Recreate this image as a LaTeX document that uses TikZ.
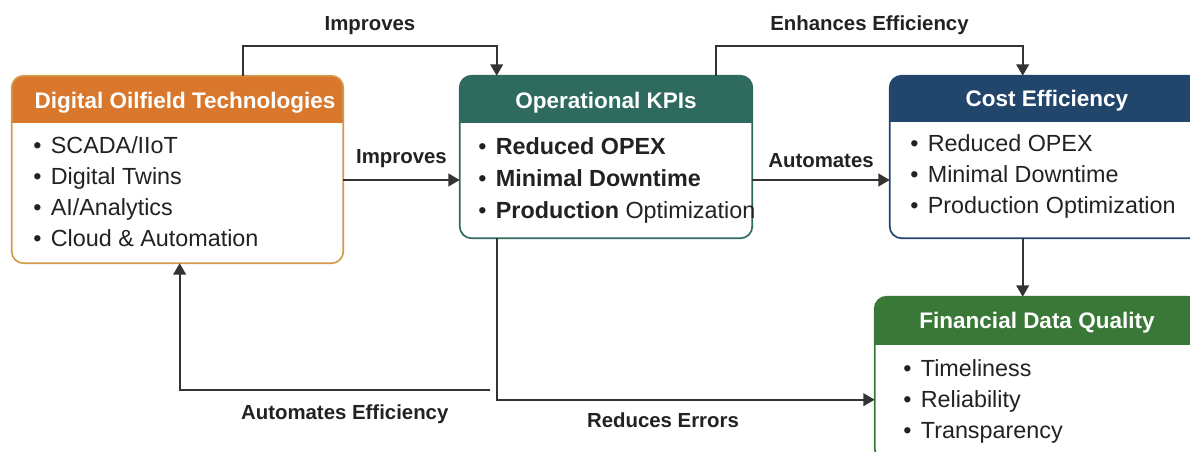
\documentclass[tikz,border=0pt]{standalone}
\usepackage{fontspec}
\setmainfont{Liberation Sans}
\usetikzlibrary{arrows.meta,calc}

\definecolor{dotorange}{HTML}{D9782D}
\definecolor{dotborder}{HTML}{D39A4C}
\definecolor{kpiteal}{HTML}{2E6A5E}
\definecolor{costnavy}{HTML}{22466B}
\definecolor{fdqgreen}{HTML}{3A7837}
\definecolor{linegray}{HTML}{333333}
\definecolor{textdark}{HTML}{222222}

\newcommand\itembullet{\makebox[12.5pt][l]{\textbullet}}

\tikzset{
  box/.style={fill=white, inner sep=0pt, rounded corners=8.5pt},
  title/.style={font=\fontsize{16}{19}\selectfont\bfseries, text=white, anchor=base, inner sep=0pt},
  item/.style={font=\fontsize{16.6}{19}\selectfont, text=textdark, anchor=base west, inner sep=0pt},
  lbl/.style={font=\fontsize{14.5}{17}\selectfont\bfseries, text=textdark, inner sep=0pt},
  conn/.style={draw=linegray, line width=1.2pt, -{Triangle[width=9pt,length=8pt]}}
}

\begin{document}
\begin{tikzpicture}[x=0.025cm, y=0.025cm]
\useasboundingbox (0,0) rectangle (1190,452);
\clip (0,0) rectangle (1190,452);

% boxes
\node[box, minimum width=8.275cm, minimum height=4.675cm] (dot) at (177.5,282.5) {};
\node[box, minimum width=7.3cm, minimum height=4.05cm] (kpi) at (606,295) {};
\node[box, minimum width=7.75cm, minimum height=4.05cm] (cost) at (1045,295) {};
\node[box, minimum width=8.125cm, minimum height=4.075cm] (fdq) at (1037.5,73.5) {};

% headers and borders
\foreach \n/\c/\b/\h in {dot/dotorange/dotborder/47, kpi/kpiteal/kpiteal/47, cost/costnavy/costnavy/46, fdq/fdqgreen/fdqgreen/48} {
  \begin{scope}
    \clip[rounded corners=8.5pt] (\n.south west) rectangle (\n.north east);
    \fill[\c] (\n.north west) rectangle ($(\n.north east)+(0,-\h)$);
  \end{scope}
  \draw[\b, line width=1.2pt, rounded corners=8.5pt] (\n.south west) rectangle (\n.north east);
}

% titles
\node[title] (dot-title) at (185,343) {Digital Oilfield Technologies};
\node[title] (kpi-title) at (606,343) {Operational KPIs};
\node[title] (cost-title) at (1047,345) {Cost Efficiency};
\node[title] (fdq-title) at (1037,123) {Financial Data Quality};

% bullet lists
\foreach \t [count=\i] in {SCADA/IIoT, Digital Twins, AI/Analytics, Cloud \& Automation}
  \node[item] (dot-\i) at (33,329-31*\i) {\itembullet\t};
\foreach \t [count=\i] in {\textbf{Reduced OPEX}, \textbf{Minimal Downtime}, \textbf{Production} Optimization}
  \node[item] (kpi-\i) at (478,329-32*\i) {\itembullet\t};
\foreach \t [count=\i] in {Reduced OPEX, Minimal Downtime, Production Optimization}
  \node[item] (cost-\i) at (910,331-31*\i) {\itembullet\t};
\foreach \t [count=\i] in {Timeliness, Reliability, Transparency}
  \node[item] (fdq-\i) at (903,106-31*\i) {\itembullet\t};

% connectors
\draw[conn] ($(dot.north east)+(-100,0)$) -- ++(0,30)
  -| node[lbl, pos=0.25, above=7pt] (imp-top) {Improves} ($(kpi.north west)+(37,0)$);
\draw[conn] ($(dot.east)+(0,-10.5)$) coordinate (i2) -- node[lbl, above=8pt] (imp-mid) {Improves} (i2 -| kpi.west);
\draw[conn] ($(kpi.north east)+(-36,0)$) -- ++(0,30)
  -| node[lbl, pos=0.25, above=7pt] (enh) {Enhances Efficiency} ($(cost.north west)+(133,0)$);
\draw[conn] ($(kpi.east)+(0,-23)$) coordinate (a2) -- node[lbl, above=8pt] (aut) {Automates} (a2 -| cost.west);
\draw[conn] ($(cost.south west)+(133,0)$) coordinate (cf) -- (cf |- fdq.north);
\draw[conn] ($(kpi.south west)+(37,0)$)
  |- node[lbl, pos=0.72, below=9pt] (red) {Reduces Errors} ($(fdq.north west)+(0,-103)$);
\coordinate (ae-start) at (490,62);
\draw[conn] (ae-start)
  -| node[lbl, pos=0.234, below=10pt] (aut-eff) {Automates Efficiency} ($(dot.south west)+(168,0)$);
\end{tikzpicture}
\end{document}
